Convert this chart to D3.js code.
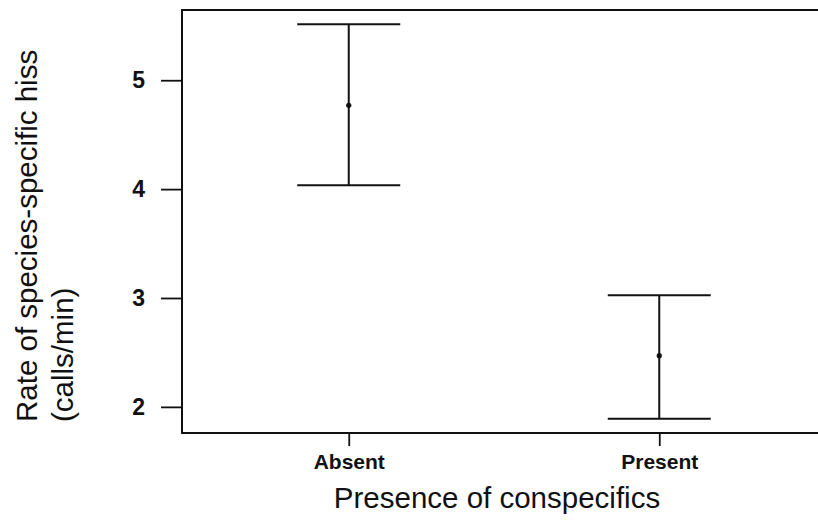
<!DOCTYPE html>
<html>
<head>
<meta charset="utf-8">
<script src="https://cdn.jsdelivr.net/npm/d3@7"></script>
<style>
  html, body { margin: 0; padding: 0; background: #fff; }
  svg { display: block; font-family: "Liberation Sans", Arial, sans-serif; }
</style>
</head>
<body>
<svg id="chart" width="818" height="522"></svg>
<script>
// Hiss rate by presence of conspecifics: mean with error bars
const categories = ["Absent", "Present"];
const means = [4.77, 2.47];
const upper = [5.515, 3.025];
const lower = [4.035, 1.89];
const yTicks = [2, 3, 4, 5];

const svg = d3.select("#chart");
const frame = { left: 182, right: 826, top: 10, bottom: 433 };

const x = d3.scalePoint()
  .domain(categories)
  .range([frame.left, frame.right])
  .padding(0.537);

const y = d3.scaleLinear()
  .domain([1.76, 5.645])
  .range([frame.bottom, frame.top]);

const ink = "#111";

// Frame: left axis, top border and bottom axis
svg.append("path")
  .attr("d", `M${frame.right},${frame.top}H${frame.left}V${frame.bottom}H${frame.right}`)
  .attr("fill", "none")
  .attr("stroke", ink)
  .attr("stroke-width", 2);

// Y axis ticks and labels
const yAxis = d3.axisLeft(y)
  .tickValues(yTicks)
  .tickSize(21)
  .tickPadding(16)
  .tickFormat(d3.format("d"));
const gy = svg.append("g")
  .attr("transform", `translate(${frame.left},0)`)
  .call(yAxis);
gy.select(".domain").remove();
gy.selectAll(".tick line").attr("stroke", ink).attr("stroke-width", 1.8);
gy.selectAll(".tick text")
  .attr("fill", ink)
  .style("font-size", "23px")
  .style("font-weight", "bold");

// X axis ticks and labels
const xAxis = d3.axisBottom(x)
  .tickSize(13)
  .tickPadding(8);
const gx = svg.append("g")
  .attr("transform", `translate(0,${frame.bottom})`)
  .call(xAxis);
gx.select(".domain").remove();
gx.selectAll(".tick line").attr("stroke", ink).attr("stroke-width", 1.8);
gx.selectAll(".tick text")
  .attr("fill", ink)
  .style("font-size", "21px")
  .style("font-weight", "bold");

// Error bars
const capHalf = 51.5;
const bars = svg.append("g").selectAll("g")
  .data(categories)
  .join("g");

bars.append("line")
  .attr("x1", d => x(d)).attr("x2", d => x(d))
  .attr("y1", (d, i) => y(upper[i]))
  .attr("y2", (d, i) => y(lower[i]))
  .attr("stroke", ink).attr("stroke-width", 2);

bars.append("line")
  .attr("x1", d => x(d) - capHalf).attr("x2", d => x(d) + capHalf)
  .attr("y1", (d, i) => y(upper[i])).attr("y2", (d, i) => y(upper[i]))
  .attr("stroke", ink).attr("stroke-width", 2);

bars.append("line")
  .attr("x1", d => x(d) - capHalf).attr("x2", d => x(d) + capHalf)
  .attr("y1", (d, i) => y(lower[i])).attr("y2", (d, i) => y(lower[i]))
  .attr("stroke", ink).attr("stroke-width", 2);

bars.append("circle")
  .attr("cx", d => x(d))
  .attr("cy", (d, i) => y(means[i]))
  .attr("r", 2.6)
  .attr("fill", ink);

// Axis titles
svg.append("text")
  .attr("x", 497)
  .attr("y", 508)
  .attr("text-anchor", "middle")
  .attr("fill", ink)
  .style("font-size", "29.5px")
  .text("Presence of conspecifics");

const yTitle = svg.append("text")
  .attr("transform", "translate(37,422) rotate(-90)")
  .attr("text-anchor", "start")
  .attr("fill", ink)
  .style("font-size", "29.5px");
yTitle.append("tspan").attr("x", 0).attr("dy", 0).text("Rate of species-specific hiss");
yTitle.append("tspan").attr("x", 0).attr("dy", 36).text("(calls/min)");
</script>
</body>
</html>
